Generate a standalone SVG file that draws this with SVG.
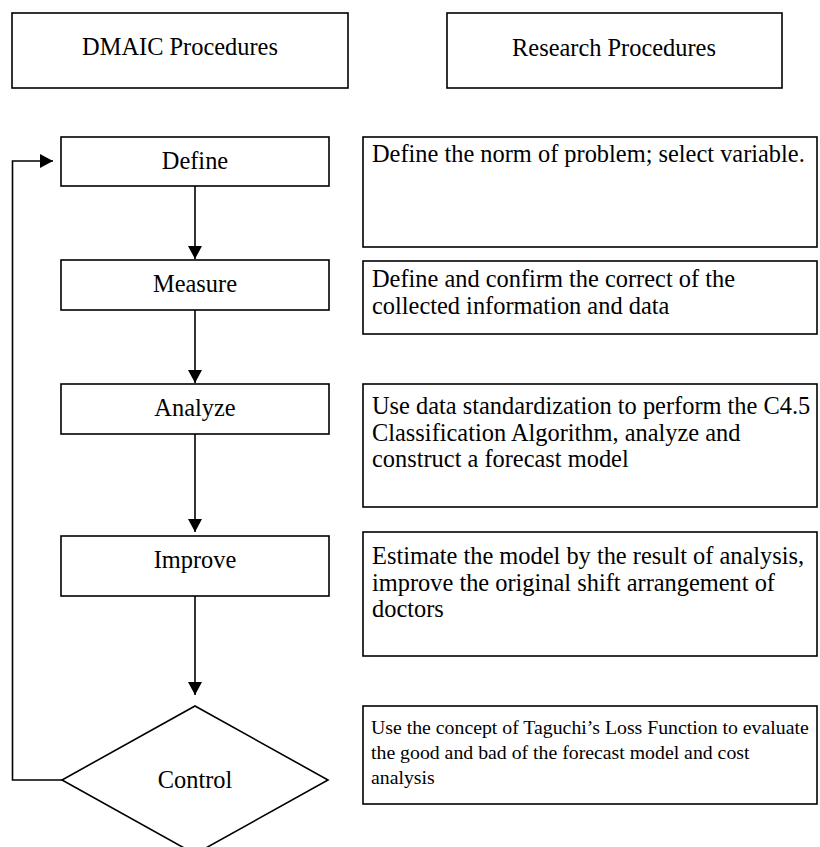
<svg xmlns="http://www.w3.org/2000/svg" width="820" height="847" viewBox="0 0 820 847">
<style>
.box{fill:#fff;stroke:#000;stroke-width:1.6}
.lbl{font-family:"Liberation Serif","Times New Roman",serif;font-size:24.4px;fill:#000;text-anchor:middle}
.txt{font-family:"Liberation Serif","Times New Roman",serif;font-size:24.4px;fill:#000}
.sm{font-family:"Liberation Serif","Times New Roman",serif;font-size:19.8px;fill:#000}
.ln{fill:none;stroke:#000;stroke-width:1.6}
</style>
<defs>
<marker id="ah" markerUnits="userSpaceOnUse" markerWidth="14" markerHeight="14" viewBox="0 0 14 14" refX="13" refY="7" orient="auto">
<path d="M0,0 L13,7 L0,14 Z" fill="#000"/>
</marker>
</defs>
<rect width="820" height="847" fill="#fff"/>
<g id="dmaic-header">
<rect class="box" x="12" y="13" width="336" height="75"/>
<text class="lbl" x="180" y="55">DMAIC Procedures</text>
</g>
<g id="research-header">
<rect class="box" x="447" y="13" width="335" height="75"/>
<text class="lbl" x="614" y="56">Research Procedures</text>
</g>
<g id="define">
<rect class="box" x="61" y="137" width="268" height="49"/>
<text class="lbl" x="195" y="169">Define</text>
</g>
<g id="measure">
<rect class="box" x="61" y="260" width="268" height="50"/>
<text class="lbl" x="195" y="292">Measure</text>
</g>
<g id="analyze">
<rect class="box" x="61" y="384" width="268" height="50"/>
<text class="lbl" x="195" y="416">Analyze</text>
</g>
<g id="improve">
<rect class="box" x="61" y="536" width="268" height="60"/>
<text class="lbl" x="195" y="568">Improve</text>
</g>
<g id="control">
<polygon class="box" points="195,706 328,780 195,854 62,780"/>
<text class="lbl" x="195" y="788">Control</text>
</g>
<g id="define-desc">
<rect class="box" x="363" y="137" width="454" height="110"/>
<text class="txt" x="372" y="162">Define the norm of problem; select variable.</text>
</g>
<g id="measure-desc">
<rect class="box" x="363" y="261" width="454" height="73"/>
<text class="txt" x="372" y="287">Define and confirm the correct of the</text>
<text class="txt" x="372" y="314">collected information and data</text>
</g>
<g id="analyze-desc">
<rect class="box" x="363" y="384" width="454" height="123"/>
<text class="txt" x="372" y="414">Use data standardization to perform the C4.5</text>
<text class="txt" x="372" y="441">Classification Algorithm, analyze and</text>
<text class="txt" x="372" y="467">construct a forecast model</text>
</g>
<g id="improve-desc">
<rect class="box" x="363" y="532" width="454" height="124"/>
<text class="txt" x="372" y="564">Estimate the model by the result of analysis,</text>
<text class="txt" x="372" y="591">improve the original shift arrangement of</text>
<text class="txt" x="372" y="617">doctors</text>
</g>
<g id="control-desc">
<rect class="box" x="363" y="706" width="454" height="98"/>
<text class="sm" x="371" y="734">Use the concept of Taguchi’s Loss Function to evaluate</text>
<text class="sm" x="371" y="759">the good and bad of the forecast model and cost</text>
<text class="sm" x="371" y="784">analysis</text>
</g>
<g id="connectors">
<line class="ln" x1="195" y1="186" x2="195" y2="259" marker-end="url(#ah)"/>
<line class="ln" x1="195" y1="310" x2="195" y2="383" marker-end="url(#ah)"/>
<line class="ln" x1="195" y1="434" x2="195" y2="532" marker-end="url(#ah)"/>
<line class="ln" x1="195" y1="596" x2="195" y2="695" marker-end="url(#ah)"/>
<polyline class="ln" points="62,780 12.5,780 12.5,161 53,161" marker-end="url(#ah)"/>
</g>
</svg>
